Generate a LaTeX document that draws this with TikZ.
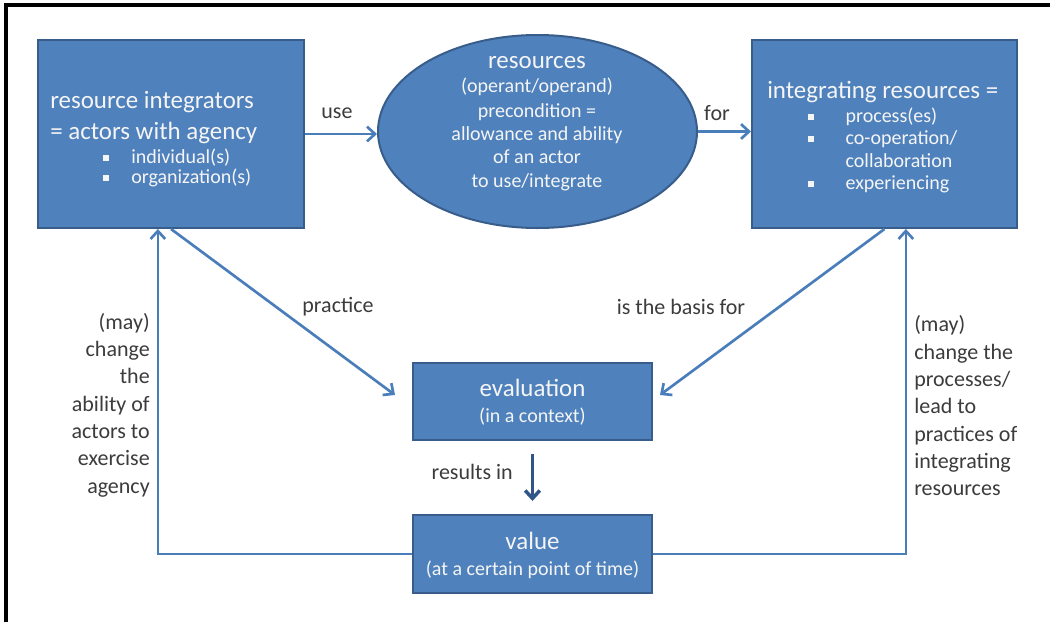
\documentclass[tikz,border=0pt]{standalone}
\usepackage{fontspec}
\setmainfont{Carlito}
\usetikzlibrary{shapes.geometric,arrows.meta,calc}
\definecolor{boxfill}{RGB}{79,129,189}
\definecolor{boxline}{RGB}{56,93,138}
\definecolor{arrline}{RGB}{74,126,187}
\definecolor{darkarr}{RGB}{50,85,135}
\definecolor{lbl}{RGB}{60,60,60}
\definecolor{boxtext}{RGB}{245,245,245}
\newcommand{\mybul}{\rule[0.2ex]{0.3em}{0.3em}}
\tikzset{
  bluebox/.style={draw=boxline,fill=boxfill,line width=1.5pt,inner sep=0pt,rectangle},
  blueell/.style={draw=boxline,fill=boxfill,line width=1.5pt,inner sep=0pt,ellipse},
  big/.style={text=boxtext,font=\fontsize{18.7pt}{22pt}\selectfont,inner sep=0pt},
  small/.style={text=boxtext,font=\fontsize{15pt}{17.6pt}\selectfont,inner sep=0pt},
  lab/.style={text=lbl,font=\fontsize{16.5pt}{20.5pt}\selectfont,inner sep=0pt},
  arr/.style={draw=arrline,line width=2pt,-{Straight Barb[length=6pt,width=11pt]}},
}
\begin{document}
\begin{tikzpicture}[x=0.75pt,y=-0.75pt]
\useasboundingbox[fill=white] (0,0) rectangle (1050,622);
\draw[line width=2.3pt] (6,622) -- (6,5) -- (1050,5);

% boxes
\node[bluebox,minimum width=199.5pt,minimum height=141pt] (L) at (171,134) {};
\node[blueell,minimum width=239.25pt,minimum height=144.75pt] (E) at (537.5,131.5) {};
\node[bluebox,minimum width=198.75pt,minimum height=141pt] (R) at (884.5,134) {};
\node[bluebox,minimum width=179.25pt,minimum height=57.75pt] (Ev) at (532.5,401.5) {};
\node[bluebox,minimum width=179.25pt,minimum height=58.5pt] (V) at (532.5,554) {};

% left box text
\node[big,anchor=base west] (lt1) at (50,108) {resource integrators};
\node[big,anchor=base west] (lt2) at (50,139) {= actors with agency};
\node[small,anchor=base west] (lb1) at (103,163) {\makebox[21pt][l]{\mybul}individual(s)};
\node[small,anchor=base west] (lb2) at (103,183) {\makebox[21pt][l]{\mybul}organization(s)};

% ellipse text
\node[big,anchor=base] (et1) at (537,68) {resources};
\node[small,anchor=base] (et2) at (537,92) {(operant/operand)};
\node[small,anchor=base] (et3) at (537,117) {precondition =};
\node[small,anchor=base] (et4) at (537,140) {allowance and ability};
\node[small,anchor=base] (et5) at (537,163) {of an actor};
\node[small,anchor=base] (et6) at (537,187) {to use/integrate};

% right box text
\node[big,anchor=base west] (rt1) at (767,98) {integrating resources =};
\node[small,anchor=base west] (rb1) at (808,122) {\makebox[28pt][l]{\mybul}process(es)};
\node[small,anchor=base west] (rb2) at (808,144) {\makebox[28pt][l]{\mybul}co-operation/};
\node[small,anchor=base west] (rb3) at (808,167) {\makebox[28pt][l]{}collaboration};
\node[small,anchor=base west] (rb4) at (808,189) {\makebox[28pt][l]{\mybul}experiencing};

% evaluation / value text
\node[big,anchor=base] (evt1) at (532.5,396) {evaluation};
\node[small,anchor=base] (evt2) at (532.5,422) {(in a context)};
\node[big,anchor=base] (vt1) at (532.5,549) {value};
\node[small,anchor=base] (vt2) at (532.5,575) {(at a certain point of time)};

% connectors
\coordinate (pe) at (395,395);
\coordinate (pb) at (660,395);
\draw[arr] (L.east) -- (L.east -| E.west);
\draw[arr] (E.east) -- (E.east -| R.west);
\draw[arr] (L.south) -- (pe);
\draw[arr] (R.south) -- (pb);
\draw[draw=darkarr,line width=2.6pt,-{Straight Barb[length=6pt,width=11pt]},shorten <=9.75pt,shorten >=9.75pt] (Ev.south) -- (V.north);
\draw[arr] (V.west) -| ($(L.south west)!0.451!(L.south east)$);
\draw[arr] (V.east) -| ($(R.south west)!0.58!(R.south east)$);

% labels
\node[lab] (use) at (337,113) {use};
\node[lab] (for) at (717,113) {for};
\node[lab] (prac) at (338,307) {practice};
\node[lab] (basis) at (681,307) {is the basis for};
\node[lab,anchor=east] (res) at (513,472) {results in};
\node[lab,anchor=east,align=right] (leftlab) at (150,405) {(may)\\change\\the\\ability of\\actors to\\exercise\\agency};
\node[lab,anchor=west,align=left] (rightlab) at (914,406) {(may)\\change the\\processes/\\lead to\\practices of\\integrating\\resources};
\end{tikzpicture}
\end{document}
